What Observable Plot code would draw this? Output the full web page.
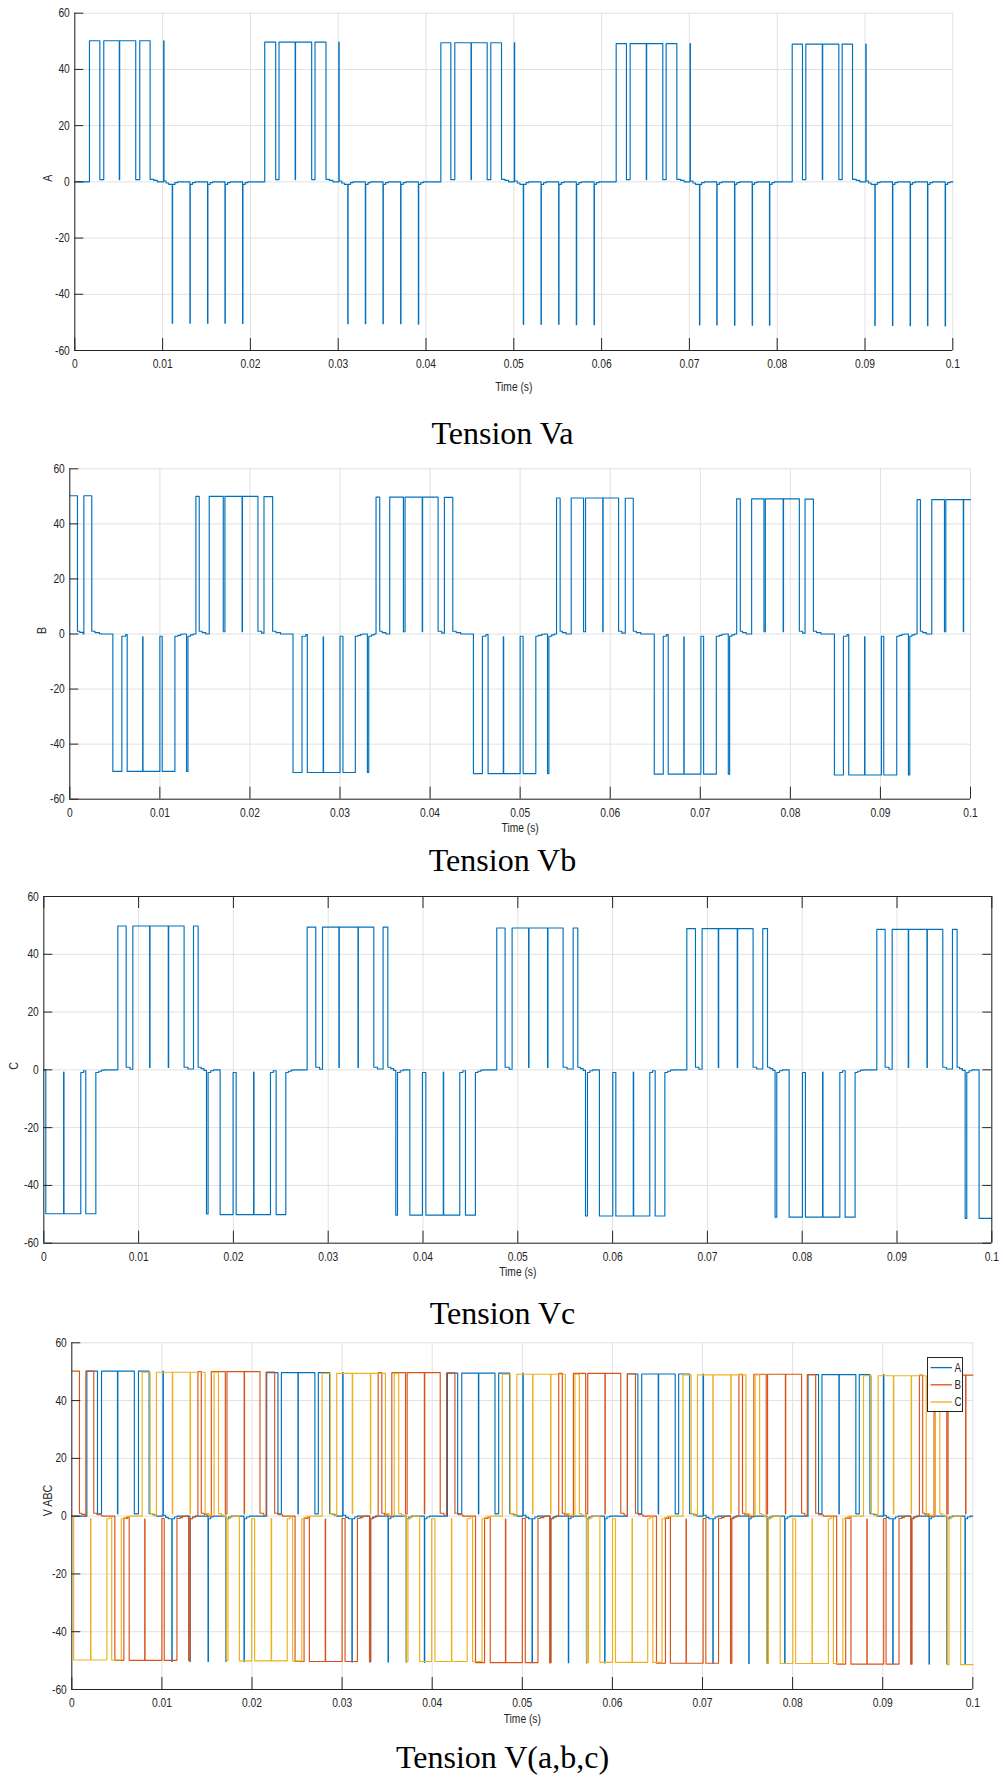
<!DOCTYPE html>
<html>
<head>
<meta charset="utf-8">
<script src="https://cdn.jsdelivr.net/npm/d3@7"></script>
<script src="https://cdn.jsdelivr.net/npm/@observablehq/plot@0.6"></script>
<style>
  html, body { margin: 0; padding: 0; background: #fff; }
  #page { position: relative; width: 1005px; height: 1789px; background: #fff; overflow: hidden; }
  .panel { position: absolute; left: 0; }
  .title { position: absolute; left: 0; width: 1005px; text-align: center; font-family: "Liberation Serif", "Times New Roman", serif; font-size: 32px; color: #000; line-height: 1; }
  .legend { position: absolute; background: #fff; border: 1px solid #262626; box-sizing: border-box; }
</style>
</head>
<body>
<div id="page"></div>
<script>
// ---------- data ----------
const xTicks = [0, 0.01, 0.02, 0.03, 0.04, 0.05, 0.06, 0.07, 0.08, 0.09, 0.1];
const xTickLabels = ["0", "0.01", "0.02", "0.03", "0.04", "0.05", "0.06", "0.07", "0.08", "0.09", "0.1"];
const yTicks = [-60, -40, -20, 0, 20, 40, 60];
const yTickLabels = ["-60", "-40", "-20", "0", "20", "40", "60"];
const seriesNames = ["A", "B", "C"];
const panelTitles = ["Tension Va", "Tension Vb", "Tension Vc", "Tension V(a,b,c)"];
const axisLabels = ["A", "B", "C", "V ABC"];
const xLabel = "Time (s)";

// phase A : [time (s), voltage]
const phaseA = [
 [0,0],[0.00167,50.2],[0.00285,0.8],[0.00330,50.2],[0.00507,0.8],[0.00511,50.2],[0.00694,0.8],[0.00740,50.2],[0.00858,0.9],[0.00900,0.5],[0.00940,0],
 [0.01012,50.2],[0.01016,0.3],[0.01040,-0.4],[0.01070,-0.9],
 [0.01110,-50.3],[0.01114,-0.9],[0.01140,-0.3],[0.01170,0],
 [0.01311,-50.3],[0.01315,-0.9],[0.01340,-0.3],[0.01370,0],
 [0.01512,-50.3],[0.01516,-0.9],[0.01541,-0.3],[0.01570,0],
 [0.01710,-50.3],[0.01714,-0.9],[0.01740,-0.3],[0.01770,0],
 [0.01911,-50.4],[0.01915,-0.9],[0.01940,-0.3],[0.01970,0],
 [0.02163,49.7],[0.02288,0.8],[0.02326,49.7],[0.02510,0.8],[0.02514,49.7],[0.02698,0.8],[0.02736,49.7],[0.02861,0.9],[0.02900,0.5],[0.02940,0],
 [0.03007,49.7],[0.03011,0.3],[0.03040,-0.4],[0.03070,-0.9],
 [0.03109,-50.5],[0.03113,-0.9],[0.03140,-0.3],[0.03170,0],
 [0.03309,-50.5],[0.03313,-0.9],[0.03340,-0.3],[0.03370,0],
 [0.03510,-50.5],[0.03514,-0.9],[0.03540,-0.3],[0.03570,0],
 [0.03711,-50.5],[0.03715,-0.9],[0.03740,-0.3],[0.03770,0],
 [0.03913,-50.6],[0.03917,-0.9],[0.03940,-0.3],[0.03970,0],
 [0.04169,49.5],[0.04283,0.8],[0.04328,49.5],[0.04513,0.8],[0.04517,49.5],[0.04697,0.8],[0.04738,49.5],[0.04860,0.9],[0.04900,0.5],[0.04940,0],
 [0.05006,49.5],[0.05010,0.3],[0.05040,-0.4],[0.05070,-0.9],
 [0.05108,-50.7],[0.05112,-0.9],[0.05140,-0.3],[0.05170,0],
 [0.05310,-50.7],[0.05314,-0.9],[0.05340,-0.3],[0.05370,0],
 [0.05511,-50.7],[0.05515,-0.9],[0.05540,-0.3],[0.05570,0],
 [0.05712,-50.8],[0.05716,-0.9],[0.05740,-0.3],[0.05770,0],
 [0.05914,-50.8],[0.05918,-0.9],[0.05940,-0.3],[0.05970,0],
 [0.06166,49.2],[0.06283,0.8],[0.06325,49.2],[0.06509,0.8],[0.06513,49.2],[0.06697,0.8],[0.06735,49.2],[0.06857,0.9],[0.06900,0.5],[0.06940,0],
 [0.07007,49.2],[0.07011,0.3],[0.07040,-0.4],[0.07070,-0.9],
 [0.07115,-50.9],[0.07119,-0.9],[0.07140,-0.3],[0.07170,0],
 [0.07312,-50.9],[0.07316,-0.9],[0.07340,-0.3],[0.07370,0],
 [0.07514,-51.0],[0.07518,-0.9],[0.07540,-0.3],[0.07570,0],
 [0.07715,-51.0],[0.07719,-0.9],[0.07740,-0.3],[0.07770,0],
 [0.07912,-51.0],[0.07916,-0.9],[0.07940,-0.3],[0.07970,0],
 [0.08171,49.0],[0.08288,0.8],[0.08326,49.0],[0.08514,0.8],[0.08518,49.0],[0.08702,0.8],[0.08740,49.0],[0.08858,0.9],[0.08900,0.5],[0.08940,0],
 [0.09009,49.0],[0.09013,0.3],[0.09040,-0.4],[0.09070,-0.9],
 [0.09112,-51.1],[0.09116,-0.9],[0.09140,-0.3],[0.09170,0],
 [0.09313,-51.1],[0.09317,-0.9],[0.09340,-0.3],[0.09370,0],
 [0.09514,-51.2],[0.09518,-0.9],[0.09540,-0.3],[0.09570,0],
 [0.09712,-51.2],[0.09716,-0.9],[0.09740,-0.3],[0.09770,0],
 [0.09913,-51.3],[0.09917,-0.9],[0.09940,-0.3],[0.09970,0],
 [0.1,0]
];

// phase B
const phaseB = [
 [0,50.2],[0.00085,1.0],[0.00110,0.6],[0.00148,0],[0.00156,50.2],[0.00244,1.0],[0.00280,0.5],[0.00330,0.1],[0.00350,0],
 [0.00478,-49.9],[0.00578,-0.8],[0.00620,-0.2],[0.00637,-49.9],[0.00809,-1.0],[0.00813,-49.9],[0.01000,-0.8],[0.01026,-49.9],
 [0.01167,-0.8],[0.01200,-0.5],[0.01230,-0.1],[0.01260,0],
 [0.01296,-49.9],[0.01312,-0.8],[0.01340,-0.3],[0.01370,0],
 [0.01400,50.0],[0.01437,1.0],[0.01470,0.5],[0.01510,0],
 [0.01548,50.0],[0.01704,0.8],[0.01722,50.0],[0.01913,0.8],[0.01917,50.0],[0.02089,1.0],[0.02130,0.3],
 [0.02156,49.9],[0.02252,1.0],[0.02290,0.5],[0.02340,0],
 [0.02478,-50.3],[0.02578,-0.8],[0.02620,-0.2],[0.02637,-50.3],[0.02813,-1.0],[0.02817,-50.3],[0.03000,-0.8],[0.03033,-50.3],
 [0.03170,-0.8],[0.03200,-0.5],[0.03230,-0.1],[0.03260,0],
 [0.03304,-50.3],[0.03319,-0.8],[0.03350,-0.3],[0.03380,0],
 [0.03400,49.7],[0.03441,1.0],[0.03470,0.5],[0.03510,0],
 [0.03552,49.7],[0.03704,0.8],[0.03722,49.7],[0.03913,0.8],[0.03917,49.7],[0.04089,1.0],[0.04130,0.3],
 [0.04159,49.6],[0.04252,1.0],[0.04290,0.5],[0.04340,0],
 [0.04481,-50.7],[0.04581,-0.8],[0.04620,-0.2],[0.04644,-50.7],[0.04813,-1.0],[0.04817,-50.7],[0.05000,-0.8],[0.05033,-50.7],
 [0.05174,-0.8],[0.05200,-0.5],[0.05240,-0.1],[0.05270,0],
 [0.05304,-50.7],[0.05319,-0.8],[0.05350,-0.3],[0.05380,0],
 [0.05404,49.4],[0.05444,1.0],[0.05470,0.5],[0.05510,0],
 [0.05567,49.4],[0.05704,0.8],[0.05726,49.4],[0.05917,0.8],[0.05921,49.4],[0.06093,1.0],[0.06130,0.3],
 [0.06167,49.3],[0.06256,1.0],[0.06290,0.5],[0.06340,0],
 [0.06489,-50.9],[0.06589,-0.8],[0.06625,-0.2],[0.06644,-50.9],[0.06817,-1.0],[0.06821,-50.9],[0.07007,-0.8],[0.07037,-50.9],
 [0.07178,-0.8],[0.07210,-0.5],[0.07240,-0.1],[0.07270,0],
 [0.07311,-50.9],[0.07326,-0.8],[0.07350,-0.3],[0.07380,0],
 [0.07404,49.1],[0.07444,1.0],[0.07470,0.5],[0.07510,0],
 [0.07570,49.1],[0.07707,0.8],[0.07722,49.1],[0.07920,0.8],[0.07924,49.1],[0.08100,1.0],[0.08135,0.3],
 [0.08163,49.0],[0.08256,1.0],[0.08290,0.5],[0.08340,0],
 [0.08489,-51.2],[0.08589,-0.8],[0.08630,-0.2],[0.08648,-51.2],[0.08824,-1.0],[0.08828,-51.2],[0.09011,-0.8],[0.09037,-51.2],
 [0.09181,-0.8],[0.09210,-0.5],[0.09240,-0.1],[0.09270,0],
 [0.09311,-51.2],[0.09326,-0.8],[0.09350,-0.3],[0.09380,0],
 [0.09407,48.8],[0.09444,1.0],[0.09470,0.5],[0.09510,0],
 [0.09570,48.8],[0.09711,0.8],[0.09726,48.8],[0.09920,0.8],[0.09924,48.8],[0.1,48.8]
];

// phase C
const phaseC = [
 [0,0],[0.00021,-49.8],[0.00209,-0.8],[0.00213,-49.8],[0.00390,-0.9],[0.00420,-0.3],[0.00443,-49.8],
 [0.00549,-0.9],[0.00580,-0.5],[0.00610,-0.1],[0.00640,0],
 [0.00781,49.8],[0.00869,0.9],[0.00910,0.2],[0.00939,49.8],[0.01116,0.8],[0.01120,49.8],[0.01313,0.8],[0.01317,49.8],
 [0.01480,0.9],[0.01520,0.3],[0.01579,49.8],[0.01628,0.9],[0.01660,0.4],[0.01690,-0.2],
 [0.01716,-49.9],[0.01733,-0.9],[0.01760,-0.3],[0.01790,0],
 [0.01860,-50.1],[0.01997,-0.9],[0.02029,-50.1],[0.02213,-0.8],[0.02217,-50.1],[0.02391,-0.9],[0.02420,-0.3],[0.02451,-50.1],
 [0.02553,-0.9],[0.02580,-0.5],[0.02610,-0.1],[0.02640,0],
 [0.02778,49.4],[0.02869,0.9],[0.02910,0.2],[0.02940,49.4],[0.03113,0.8],[0.03117,49.4],[0.03314,0.8],[0.03318,49.4],
 [0.03481,0.9],[0.03520,0.3],[0.03579,49.4],[0.03629,0.9],[0.03660,0.4],[0.03690,-0.2],
 [0.03713,-50.3],[0.03731,-0.9],[0.03760,-0.3],[0.03790,0],
 [0.03861,-50.3],[0.03994,-0.9],[0.04030,-50.3],[0.04214,-0.8],[0.04218,-50.3],[0.04388,-0.9],[0.04420,-0.3],[0.04448,-50.3],
 [0.04553,-0.9],[0.04580,-0.5],[0.04610,-0.1],[0.04640,0],
 [0.04778,49.1],[0.04866,0.9],[0.04910,0.2],[0.04940,49.1],[0.05114,0.8],[0.05118,49.1],[0.05314,0.8],[0.05318,49.1],
 [0.05478,0.9],[0.05520,0.3],[0.05584,49.1],[0.05633,0.9],[0.05660,0.4],[0.05690,-0.2],
 [0.05714,-50.6],[0.05735,-0.9],[0.05760,-0.3],[0.05790,0],
 [0.05861,-50.6],[0.06002,-0.9],[0.06034,-50.6],[0.06218,-0.8],[0.06222,-50.6],[0.06392,-0.9],[0.06420,-0.3],[0.06449,-50.6],
 [0.06551,-0.9],[0.06580,-0.5],[0.06610,-0.1],[0.06640,0],
 [0.06783,48.9],[0.06874,0.9],[0.06910,0.2],[0.06944,48.9],[0.07115,0.8],[0.07119,48.9],[0.07315,0.8],[0.07319,48.9],
 [0.07482,0.9],[0.07520,0.3],[0.07584,48.9],[0.07634,0.9],[0.07660,0.4],[0.07690,-0.2],
 [0.07714,-51.0],[0.07732,-0.9],[0.07760,-0.3],[0.07790,0],
 [0.07862,-51.0],[0.08003,-0.9],[0.08034,-51.0],[0.08215,-0.8],[0.08219,-51.0],[0.08397,-0.9],[0.08425,-0.3],[0.08453,-51.0],
 [0.08558,-0.9],[0.08585,-0.5],[0.08615,-0.1],[0.08645,0],
 [0.08787,48.6],[0.08875,0.9],[0.08915,0.2],[0.08949,48.6],[0.09119,0.8],[0.09123,48.6],[0.09316,0.8],[0.09320,48.6],
 [0.09483,0.9],[0.09520,0.3],[0.09585,48.6],[0.09634,0.9],[0.09660,0.4],[0.09690,-0.2],
 [0.09719,-51.4],[0.09736,-0.9],[0.09760,-0.3],[0.09790,0],
 [0.09866,-51.4],[0.1,-51.4]
];

// ---------- styling ----------
const BLUE = "#0072BD", ORANGE = "#D95319", YELLOW = "#EDB120";
const GRID = "#e1e1e1", AX = "#262626";
const TICKFONT = '"Liberation Sans", Arial, Helvetica, sans-serif';
const NARROW = 0.82; // the reference uses a condensed sans face
const page = document.getElementById("page");

function makePanel(cfg) {
  const {top, H, left, right, frameTop, frameBottom, series, yLabel, yLabelDx, timeDy, box} = cfg;
  const ml = left, mr = 1005 - right, mt = frameTop - top, mb = top + H - frameBottom;
  const pw = right - left, ph = frameBottom - frameTop;
  const marks = [
    Plot.gridX(xTicks, {stroke: GRID, strokeOpacity: 1}),
    Plot.gridY(yTicks, {stroke: GRID, strokeOpacity: 1}),
    ...series.map(s => Plot.line(s.data, {x: d => d[0], y: d => d[1], curve: "step-after", stroke: s.color, strokeWidth: 1.15})),
    Plot.ruleX([0], {stroke: AX}),
    Plot.ruleY([-60], {stroke: AX}),
    Plot.tickY(yTicks, {y: d => d, insetRight: pw - 9, stroke: AX}),
    Plot.tickX(xTicks, {x: d => d, insetTop: ph - 12, stroke: AX}),
    Plot.axisX(xTicks, {tickSize: 0, tickPadding: 9, tickFormat: d => xTickLabels[xTicks.indexOf(d)], label: null, fill: AX}),
    Plot.axisY(yTicks, {tickSize: 0, tickPadding: 5, tickFormat: d => yTickLabels[yTicks.indexOf(d)], label: null, fill: AX}),
    Plot.text([xLabel], {frameAnchor: "bottom", dy: timeDy, text: d => d, fill: AX, fontSize: 12.5}),
    Plot.text([yLabel], {frameAnchor: "left", dx: yLabelDx, rotate: -90, text: d => d, fill: AX, fontSize: 13})
  ];
  if (box) {
    marks.push(
      Plot.ruleX([0.1], {stroke: AX}),
      Plot.ruleY([60], {stroke: AX}),
      Plot.tickY(yTicks, {y: d => d, insetLeft: pw - 9, stroke: AX}),
      Plot.tickX(xTicks, {x: d => d, insetBottom: ph - 12, stroke: AX})
    );
  }
  const svg = Plot.plot({
    width: 1005, height: H,
    marginLeft: ml, marginRight: mr, marginTop: mt, marginBottom: mb,
    x: {domain: [0, 0.1]},
    y: {domain: [-60, 60]},
    style: {fontFamily: TICKFONT, fontSize: "12.5px", background: "transparent", overflow: "visible"},
    marks
  });
  const holder = document.createElement("div");
  holder.className = "panel";
  holder.style.top = top + "px";
  holder.appendChild(svg);
  page.appendChild(holder);
}

function addTitle(text, centerY) {
  const d = document.createElement("div");
  d.className = "title";
  d.textContent = text;
  d.style.top = (centerY - 16) + "px";
  page.appendChild(d);
}

makePanel({top: 0, H: 400, left: 74.3, right: 952.3, frameTop: 12.7, frameBottom: 350,
  series: [{data: phaseA, color: BLUE}], yLabel: axisLabels[0], yLabelDx: -26.6, timeDy: 40, box: false});
addTitle(panelTitles[0], 433);

makePanel({top: 450, H: 400, left: 69.3, right: 970, frameTop: 468.3, frameBottom: 798.7,
  series: [{data: phaseB, color: BLUE}], yLabel: axisLabels[1], yLabelDx: -28.3, timeDy: 33, box: false});
addTitle(panelTitles[1], 860);

makePanel({top: 880, H: 400, left: 43.3, right: 991.3, frameTop: 896, frameBottom: 1242.7,
  series: [{data: phaseC, color: BLUE}], yLabel: axisLabels[2], yLabelDx: -30, timeDy: 33, box: true});
addTitle(panelTitles[2], 1313);

makePanel({top: 1330, H: 420, left: 71.3, right: 972.3, frameTop: 1342.3, frameBottom: 1689,
  series: [{data: phaseA, color: BLUE}, {data: phaseB, color: ORANGE}, {data: phaseC, color: YELLOW}],
  yLabel: axisLabels[3], yLabelDx: -23.6, timeDy: 33, box: false});
addTitle(panelTitles[3], 1757);

// legend for the combined panel
(function () {
  const colors = [BLUE, ORANGE, YELLOW];
  const lg = document.createElement("div");
  lg.className = "legend";
  lg.style.left = "926.7px"; lg.style.top = "1356.7px"; lg.style.width = "36px"; lg.style.height = "55.6px";
  const svg = d3.create("svg").attr("width", 36).attr("height", 54).style("position", "absolute").style("left", "-1px").style("top", "-1px");
  seriesNames.forEach((name, i) => {
    const y = 10.6 + i * 17.2;
    svg.append("line").attr("x1", 3.6).attr("x2", 25).attr("y1", y).attr("y2", y).attr("stroke", colors[i]).attr("stroke-width", 1.3);
    svg.append("text").attr("x", 27.5).attr("y", y).attr("dy", "0.36em").attr("font-family", TICKFONT).attr("font-size", 12).attr("fill", AX).text(name);
  });
  lg.appendChild(svg.node());
  page.appendChild(lg);
})();

// condense the sans-serif labels to match the narrow face of the reference
page.querySelectorAll("svg text").forEach(t => {
  if (t.querySelector("tspan")) return;
  const len = t.getComputedTextLength();
  if (len > 0) {
    t.setAttribute("textLength", (len * NARROW).toFixed(2));
    t.setAttribute("lengthAdjust", "spacingAndGlyphs");
  }
});
</script>
</body>
</html>
